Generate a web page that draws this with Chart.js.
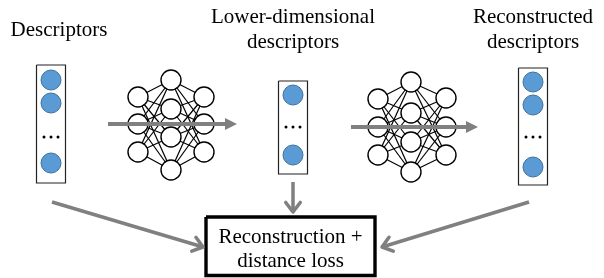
<!DOCTYPE html>
<html>
<head>
<meta charset="utf-8">
<script src="https://cdn.jsdelivr.net/npm/chart.js@4.4.0/dist/chart.umd.min.js"></script>
<style>
  html, body { margin: 0; padding: 0; background: #fff; }
  canvas { display: block; }
</style>
</head>
<body>
<canvas id="chart" width="604" height="278"></canvas>
<script>
// networks: x of each layer, y of every node in that layer
const encoderX = [138, 171, 204];
const encoderY = [[97, 124, 152], [80, 109, 137, 170], [97, 124, 152]];
const decoderX = [378, 411, 446];
const decoderY = [[99, 127, 155], [82, 113, 142, 172], [98, 127, 155]];

// descriptor vectors (input, latent, output)
const vectorX = [51, 293, 533];
const vectorY = [[80, 103, 163], [95, 155], [82, 105, 167]];
const dotsY = [137, 127, 137];
const boxTop = [65, 81, 68];
const boxBottom = [183, 174, 185];

// labels
const titles = [["Descriptors"], ["Lower-dimensional", "descriptors"], ["Reconstructed", "descriptors"]];
const titleX = [59, 293, 533];
const titleY = [36, 23, 23];
const lossLines = ["Reconstruction +", "distance loss"];

// arrows [x0, y0, x1, y1]
const flowArrows = [[108, 124, 237, 124], [351, 127, 478, 127]];
const lossArrows = [[293, 182, 293, 212], [52, 202, 203, 247], [529, 202, 382, 247]];
const lossBox = [206, 217, 375, 275.5];

const GRAY = "#808080";
const BLUE = "#5b9bd5";
const BLUE_EDGE = "#41719c";

const datasets = [];

function seg(points, color, width, order) {
  datasets.push({
    type: "line", data: points, showLine: true, borderColor: color, borderWidth: width,
    pointRadius: 0, fill: false, order, borderJoinStyle: "miter", borderCapStyle: "butt", clip: false
  });
}

function network(xs, ys) {
  for (let l = 0; l < xs.length - 1; l++) {
    ys[l].forEach(a => ys[l + 1].forEach(b => {
      seg([{ x: xs[l], y: a }, { x: xs[l + 1], y: b }], "#000", 1.2, 5);
    }));
  }
  const nodes = [];
  xs.forEach((x, l) => ys[l].forEach(y => nodes.push({ x, y })));
  datasets.push({
    type: "scatter", data: nodes, pointRadius: 10, pointBackgroundColor: "#fff",
    pointBorderColor: "#000", pointBorderWidth: 1.4, order: 3, clip: false
  });
}

network(encoderX, encoderY);
network(decoderX, decoderY);

vectorX.forEach((x, i) => {
  const l = x - 14.5, r = x + 14.5;
  seg([{ x: l, y: boxTop[i] }, { x: r, y: boxTop[i] }, { x: r, y: boxBottom[i] },
       { x: l, y: boxBottom[i] }, { x: l, y: boxTop[i] }], "#222", 1.2, 4);
  datasets.push({
    type: "scatter", data: vectorY[i].map(y => ({ x, y })), pointRadius: 10,
    pointBackgroundColor: BLUE, pointBorderColor: BLUE_EDGE, pointBorderWidth: 1, order: 2, clip: false
  });
  datasets.push({
    type: "scatter", data: [-7, 0, 7].map(d => ({ x: x + d, y: dotsY[i] })), pointRadius: 1.5,
    pointBackgroundColor: "#000", pointBorderWidth: 0, order: 2, clip: false
  });
});

flowArrows.forEach(a => seg([{ x: a[0], y: a[1] }, { x: a[2] - 10, y: a[3] }], GRAY, 4, 1));
lossArrows.forEach(a => seg([{ x: a[0], y: a[1] }, { x: a[2], y: a[3] }], GRAY, 3.5, 1));

const b = lossBox;
seg([{ x: b[0], y: b[1] }, { x: b[2], y: b[1] }, { x: b[2], y: b[3] },
     { x: b[0], y: b[3] }, { x: b[0], y: b[1] }], "#000", 3.4, 1);

const decor = {
  id: "decor",
  afterDatasetsDraw(chart) {
    const { ctx, scales } = chart;
    const px = v => scales.x.getPixelForValue(v);
    const py = v => scales.y.getPixelForValue(v);
    ctx.save();
    // filled heads on flow arrows
    ctx.fillStyle = GRAY;
    flowArrows.forEach(a => {
      const tx = px(a[2]), ty = py(a[3]);
      ctx.beginPath();
      ctx.moveTo(tx, ty);
      ctx.lineTo(tx - 12, ty - 6);
      ctx.lineTo(tx - 12, ty + 6);
      ctx.closePath();
      ctx.fill();
    });
    // open heads on loss arrows
    ctx.strokeStyle = GRAY;
    ctx.lineWidth = 3.5;
    ctx.lineCap = "round";
    ctx.lineJoin = "round";
    lossArrows.forEach(a => {
      const x0 = px(a[0]), y0 = py(a[1]), x1 = px(a[2]), y1 = py(a[3]);
      const ang = Math.atan2(y1 - y0, x1 - x0);
      ctx.beginPath();
      ctx.moveTo(x1 - 12 * Math.cos(ang - 0.65), y1 - 12 * Math.sin(ang - 0.65));
      ctx.lineTo(x1, y1);
      ctx.lineTo(x1 - 12 * Math.cos(ang + 0.65), y1 - 12 * Math.sin(ang + 0.65));
      ctx.stroke();
    });
    // text
    ctx.fillStyle = "#000";
    ctx.textAlign = "center";
    ctx.textBaseline = "alphabetic";
    ctx.font = "21px 'Liberation Serif', 'Times New Roman', serif";
    const text = (s, x, y) => ctx.fillText(s, px(x), py(y));
    titles.forEach((lines, i) => lines.forEach((s, j) => text(s, titleX[i], titleY[i] + j * 25)));
    lossLines.forEach((s, j) => text(s, (b[0] + b[2]) / 2, 243 + j * 24));
    ctx.restore();
  }
};

new Chart(document.getElementById("chart"), {
  type: "scatter",
  data: { datasets },
  options: {
    responsive: false,
    animation: false,
    devicePixelRatio: 1,
    layout: { padding: 0, autoPadding: false },
    plugins: { legend: { display: false }, tooltip: { enabled: false } },
    scales: {
      x: { type: "linear", min: 0, max: 604, display: false },
      y: { type: "linear", min: 0, max: 278, reverse: true, display: false }
    }
  },
  plugins: [decor]
});
</script>
</body>
</html>
